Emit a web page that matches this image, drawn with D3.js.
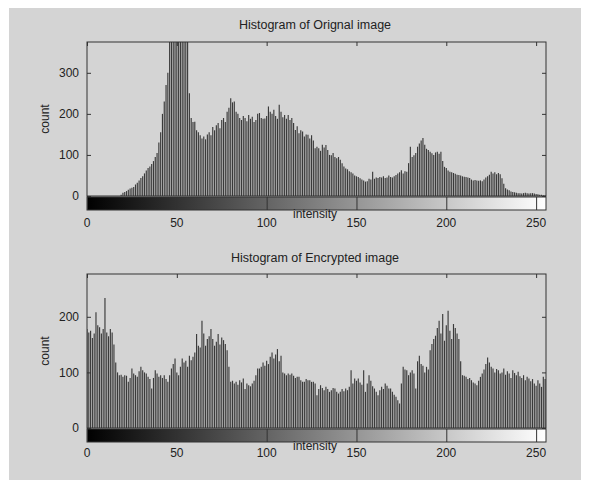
<!DOCTYPE html>
<html>
<head>
<meta charset="utf-8">
<script src="https://cdn.jsdelivr.net/npm/d3@7/dist/d3.min.js"></script>
<style>
  body { margin: 0; background: #fff; }
  text { font-family: "Liberation Sans", Arial, sans-serif; fill: #222; }
</style>
</head>
<body>
<div id="chart"></div>
<script>
// counts per intensity level 0..255
const originalCounts = [
  0,0,0,0,0,0,0,0,0,0,0,0,0,0,0,0,
  0,0,0,3,8,10,12,15,18,20,22,28,32,38,44,48,
  55,62,68,72,78,85,95,105,130,155,200,230,270,300,420,560,
  680,720,760,700,640,600,540,480,400,250,190,180,181,160,155,148,
  140,145,138,150,155,148,168,160,172,178,165,185,190,180,205,215,
  238,228,230,205,200,190,185,195,190,182,197,188,193,180,185,200,
  202,190,188,189,195,218,205,200,210,195,188,222,205,192,197,188,
  197,185,190,178,161,170,153,160,157,145,150,149,140,148,135,116,
  120,116,110,125,118,124,112,100,99,105,95,92,95,88,80,72,
  67,65,60,58,55,50,48,46,43,40,38,35,36,42,40,59,
  42,45,44,46,45,48,44,45,50,46,45,48,51,55,58,63,
  55,60,59,80,120,95,99,105,120,128,135,141,125,115,112,108,
  104,100,106,108,103,108,85,71,68,62,59,58,56,54,52,51,
  50,48,47,46,45,44,40,38,39,38,37,38,36,40,45,48,
  52,59,55,58,53,56,53,43,30,19,16,14,11,10,9,8,
  7,7,6,7,8,7,6,7,7,6,5,4,3,3,2,2
];

const encryptedCounts = [
  178,172,175,162,170,208,185,181,170,178,234,172,165,178,172,150,
  118,100,95,96,92,95,94,83,90,107,98,95,92,102,110,104,
  100,98,92,88,71,90,104,98,92,95,90,95,88,83,95,107,
  115,125,100,95,110,125,118,121,110,130,122,128,136,169,148,145,
  193,170,148,160,165,178,160,148,155,169,150,163,158,151,140,110,
  83,85,80,83,78,86,82,89,70,80,77,75,80,85,95,107,
  107,110,118,112,121,115,128,136,125,132,142,120,130,100,98,95,
  98,96,98,94,90,92,92,86,83,83,88,86,86,83,83,80,
  59,70,77,72,68,74,70,65,68,72,71,65,62,65,70,66,
  71,68,74,104,80,89,85,89,82,78,104,65,80,95,85,75,
  71,65,59,68,74,70,80,76,71,71,65,60,56,50,44,80,
  110,105,104,95,100,104,98,71,120,130,115,112,100,110,105,140,
  151,160,166,180,193,170,205,157,185,211,175,160,187,180,170,160,
  120,95,94,92,88,90,86,82,80,77,85,92,98,105,115,127,
  118,110,107,100,106,104,98,100,107,96,102,98,90,104,99,95,
  101,93,90,95,86,92,89,84,88,80,76,86,80,74,92,88
];

const xTicks = [0, 50, 100, 150, 200, 250];
const origYTicks = [0, 100, 200, 300];
const encYTicks = [0, 100, 200];

const panels = [
  { title: "Histogram of Orignal image", counts: originalCounts, yMax: 375, yTicks: origYTicks,
    top: 42, bottom: 196, titleY: 29, labelY: 218, tickY: 227 },
  { title: "Histogram of Encrypted image", counts: encryptedCounts, yMax: 277, yTicks: encYTicks,
    top: 274, bottom: 428, titleY: 262, labelY: 450, tickY: 457 }
];

const W = 589, H = 489;
const left = 87, right = 546, barH = 13;
const ink = "#333";

const svg = d3.select("#chart").append("svg")
  .attr("width", W).attr("height", H);

// grey figure background
svg.append("rect")
  .attr("x", 9).attr("y", 8).attr("width", 572).attr("height", 472)
  .attr("fill", "#d4d4d4");

// gradient for the intensity colorbar
const grad = svg.append("defs").append("linearGradient")
  .attr("id", "gray").attr("x1", "0%").attr("x2", "100%");
grad.append("stop").attr("offset", "0%").attr("stop-color", "#000");
grad.append("stop").attr("offset", "100%").attr("stop-color", "#fff");

const x = d3.scaleLinear().domain([0, 255.5]).range([left, right]);

panels.forEach((p, k) => {
  const y = d3.scaleLinear().domain([0, p.yMax]).range([p.bottom, p.top]);
  const g = svg.append("g");

  g.append("clipPath").attr("id", "clip" + k)
    .append("rect").attr("x", left).attr("y", p.top)
    .attr("width", right - left).attr("height", p.bottom - p.top);

  // stems
  g.append("g").attr("clip-path", `url(#clip${k})`)
    .selectAll("line").data(p.counts).enter().append("line")
    .attr("x1", (d, i) => x(i)).attr("x2", (d, i) => x(i))
    .attr("y1", y(0)).attr("y2", d => y(d))
    .attr("stroke", "#3a3a3a").attr("stroke-width", 1.15);

  // frame
  g.append("rect")
    .attr("x", left).attr("y", p.top)
    .attr("width", right - left).attr("height", p.bottom - p.top)
    .attr("fill", "none").attr("stroke", ink);

  // y ticks both sides, inward
  const yAxisL = d3.axisLeft(y).tickValues(p.yTicks).tickSize(-4).tickPadding(8);
  const gl = g.append("g").attr("transform", `translate(${left},0)`).call(yAxisL);
  const yAxisR = d3.axisRight(y).tickValues(p.yTicks).tickSize(-4).tickFormat("");
  const gr = g.append("g").attr("transform", `translate(${right},0)`).call(yAxisR);
  [gl, gr].forEach(a => {
    a.select(".domain").remove();
    a.selectAll("line").attr("stroke", ink);
  });
  gl.selectAll("text").attr("font-size", 12).attr("fill", "#222")
    .style("font-family", "'Liberation Sans', Arial, sans-serif");

  // top x ticks
  const xTop = d3.axisTop(x).tickValues(xTicks).tickSize(-4).tickFormat("");
  const gt = g.append("g").attr("transform", `translate(0,${p.top})`).call(xTop);
  gt.select(".domain").remove();
  gt.selectAll("line").attr("stroke", ink);

  // colorbar
  const cb = p.bottom + 1;
  g.append("rect")
    .attr("x", left).attr("y", cb)
    .attr("width", right - left).attr("height", barH)
    .attr("fill", "url(#gray)").attr("stroke", ink);
  const xb = d3.axisBottom(x).tickValues(xTicks).tickSize(-barH).tickFormat("");
  const gb = g.append("g").attr("transform", `translate(0,${cb + barH})`).call(xb);
  gb.select(".domain").remove();
  gb.selectAll("line").attr("stroke", ink);

  // x tick labels
  g.selectAll(".xl").data(xTicks).enter().append("text")
    .attr("x", d => x(d)).attr("y", p.tickY)
    .attr("text-anchor", "middle").attr("font-size", 12)
    .text(d => d);

  // labels
  g.append("text").attr("x", 315).attr("y", p.labelY)
    .attr("text-anchor", "middle").attr("font-size", 12).text("intensity");
  g.append("text").attr("x", 315).attr("y", p.titleY)
    .attr("text-anchor", "middle").attr("font-size", 12.5).text(p.title);
  g.append("text")
    .attr("transform", `translate(49,${(p.top + p.bottom) / 2}) rotate(-90)`)
    .attr("text-anchor", "middle").attr("font-size", 12).text("count");
});
</script>
</body>
</html>
